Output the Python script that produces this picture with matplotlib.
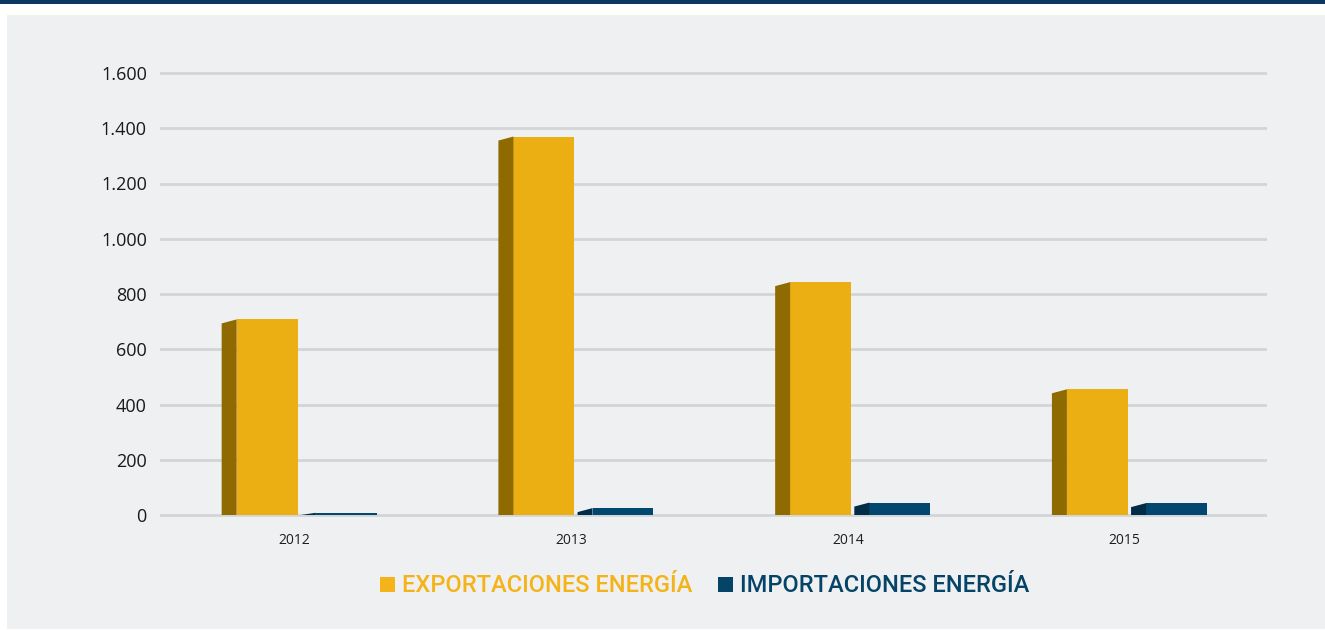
import matplotlib
matplotlib.use("Agg")
import matplotlib.pyplot as plt
from matplotlib.patches import Polygon, Rectangle, Patch
import numpy as np

years = ["2012", "2013", "2014", "2015"]
exportaciones = [708, 1370, 843, 455]
importaciones = [8, 25, 45, 43]
yticks = [0, 200, 400, 600, 800, 1000, 1200, 1400, 1600]
ytick_labels = ["0", "200", "400", "600", "800", "1.000", "1.200", "1.400", "1.600"]
series_labels = ["EXPORTACIONES ENERGÍA", "IMPORTACIONES ENERGÍA"]

W, H = 1325, 630
fig = plt.figure(figsize=(W / 100, H / 100), dpi=100)
fig.patch.set_facecolor("white")

# background panel and top band
fig.patches.append(Rectangle((7 / W, 1 - 629 / H), 1 - 7 / W, (629 - 15) / H,
                             transform=fig.transFigure, facecolor="#EFF0F2",
                             edgecolor="none", zorder=-10))
fig.patches.append(Rectangle((0, 1 - 3.5 / H), 1, 3.5 / H, transform=fig.transFigure,
                             facecolor="#0B3763", edgecolor="none", zorder=-10))

gold, gold_side = "#EBAE13", "#8E6A00"
navy, navy_side = "#02476F", "#012C47"

# axes geometry (pixels)
x0_px, x1_px = 160, 1267
y_zero_px, y_top_px = 515, 73
ppu = (y_zero_px - y_top_px) / 1600.0
ylo, yhi = -20, 1650
ax_bot_px = y_zero_px - ylo * ppu
ax_top_px = y_zero_px - yhi * ppu
ax = fig.add_axes([x0_px / W, 1 - ax_bot_px / H, (x1_px - x0_px) / W,
                   (ax_bot_px - ax_top_px) / H])
ax.set_zorder(5)
ax.set_facecolor("none")
ax.set_xlim(-0.5, len(years) - 0.5)
ax.set_ylim(ylo, yhi)

for t in yticks:
    ax.axhline(t, color="#D3D4D6", lw=2, zorder=1)

upx = 1.0 / ((x1_px - x0_px) / len(years))  # data units per pixel (x)
bw = 0.22
depth = 15 * upx
drop = 4.0 / ppu
x = np.arange(len(years))

def bars(lefts, vals, front, side):
    ax.bar(lefts, vals, width=bw, align="edge", color=front, zorder=3, linewidth=0)
    for xl, v in zip(lefts, vals):
        poly = Polygon([(xl - depth, 0), (xl - depth, max(0, v - drop)), (xl, v), (xl, 0)],
                       closed=True, facecolor=side, edgecolor="none", zorder=3)
        ax.add_patch(poly)

bars(x - 0.223, exportaciones, gold, gold_side)
bars(x + 0.063, importaciones, navy, navy_side)

for s in ax.spines.values():
    s.set_visible(False)
ax.set_xticks(x - 0.014)
ax.set_xticklabels(years, fontsize=10, family="Open Sans", color="#1E1E1E")
ax.set_yticks(yticks)
ax.set_yticklabels(ytick_labels, fontsize=13, family="Open Sans", color="#1A1A1A")
ax.tick_params(axis="x", length=0, pad=9)
ax.tick_params(axis="y", length=0, pad=9.5)

handles = [Patch(facecolor="#F4B419", edgecolor="none"), Patch(facecolor="#064467", edgecolor="none")]
leg = fig.legend(handles, series_labels, loc="center", bbox_to_anchor=(705 / W, 1 - 586 / H),
                 ncol=2, frameon=False, handlelength=0.62, handleheight=0.62,
                 handletextpad=0.3, columnspacing=1.1,
                 prop={"family": "Roboto", "size": 17, "weight": "medium"},
                 labelcolor=["#F4B419", "#064467"])

fig.savefig("out.png", dpi=100, facecolor=fig.get_facecolor())
